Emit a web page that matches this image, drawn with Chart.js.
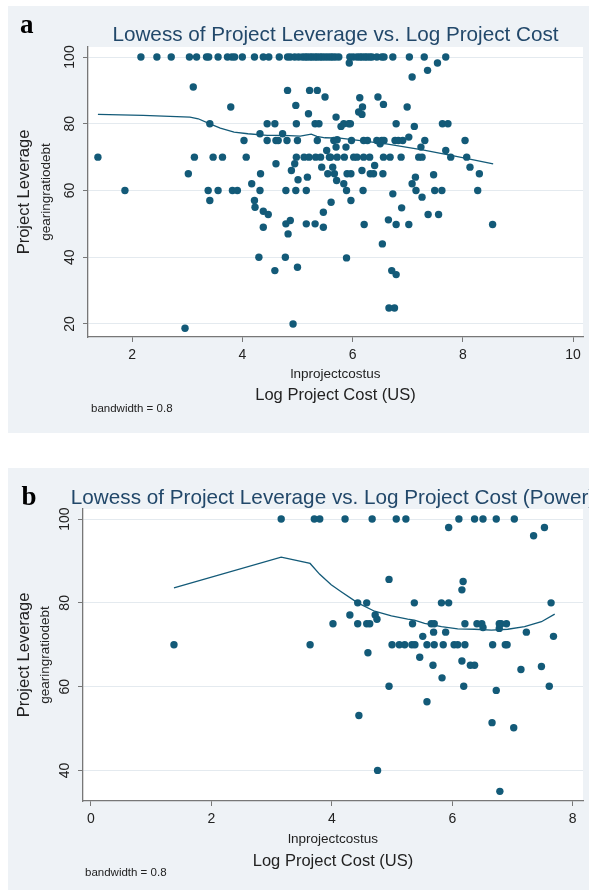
<!DOCTYPE html>
<html>
<head>
<meta charset="utf-8">
<title>Lowess of Project Leverage vs. Log Project Cost</title>
<script src="https://cdn.jsdelivr.net/npm/chart.js@4.4.1/dist/chart.umd.min.js"></script>
<style>
  html, body { margin: 0; padding: 0; background: #fff; }
  body { width: 589px; height: 892px; position: relative; overflow: hidden; }
  .panel { position: absolute; left: 8px; width: 581px; background: #eef2f6; }
  #panelA { top: 6px; height: 427px; }
  #panelB { top: 468px; height: 422px; }
  canvas { display: block; }
</style>
</head>
<body>
<div class="panel" id="panelA"><canvas id="chartA" width="581" height="427"></canvas></div>
<div class="panel" id="panelB"><canvas id="chartB" width="581" height="422"></canvas></div>
<script>
// ---- panel a: all projects ----
const costA = [
  // gearingratiodebt = 100 row
  2.16, 2.45, 2.71, 3.04, 3.17, 3.35, 3.39, 3.56, 3.73, 3.81,
  3.86, 4.00, 4.22, 4.38, 4.48, 4.67, 4.82, 4.87, 4.95, 5.02,
  5.09, 5.14, 5.18, 5.23, 5.27, 5.32, 5.36, 5.41, 5.45, 5.50,
  5.55, 5.60, 5.64, 5.69, 5.75, 5.95, 6.01, 6.08, 6.13, 6.17,
  6.22, 6.26, 6.31, 6.35, 6.44, 6.53, 6.57, 6.73, 7.03, 7.30,
  7.69,
  // the rest
  1.38, 1.87, 2.96, 3.02, 3.11, 3.13, 3.38, 3.41, 3.41, 3.47,
  3.56, 3.64, 3.79, 3.82, 3.91, 4.03, 4.07, 4.17, 4.22, 4.23,
  4.30, 4.32, 4.32, 4.33, 4.38, 4.38, 4.45, 4.45, 4.47, 4.59,
  4.59, 4.61, 4.61, 4.65, 4.73, 4.78, 4.79, 4.79, 4.81, 4.82,
  4.83, 4.87, 4.89, 4.92, 4.95, 4.97, 4.97, 4.98, 4.98, 5.00,
  5.00, 5.01, 5.12, 5.16, 5.16, 5.18, 5.20, 5.21, 5.22, 5.32,
  5.32, 5.33, 5.36, 5.36, 5.39, 5.42, 5.44, 5.47, 5.47, 5.50,
  5.53, 5.55, 5.58, 5.61, 5.64, 5.60, 5.66, 5.67, 5.70, 5.70,
  5.71, 5.72, 5.72, 5.79, 5.84, 5.84, 5.85, 5.88, 5.89, 5.89,
  5.90, 5.93, 5.96, 5.97, 5.97, 5.98, 6.02, 6.08, 6.11, 6.13,
  6.17, 6.17, 6.18, 6.19, 6.20, 6.20, 6.21, 6.27, 6.31, 6.32,
  6.38, 6.40, 6.44, 6.46, 6.50, 6.53, 6.54, 6.55, 6.56, 6.56,
  6.57, 6.65, 6.66, 6.68, 6.71, 6.73, 6.76, 6.77, 6.79, 6.79,
  6.79, 6.83, 6.88, 6.89, 6.91, 6.99, 7.02, 7.02, 7.08, 7.08,
  7.12, 7.14, 7.15, 7.20, 7.24, 7.26, 7.26, 7.31, 7.36, 7.37,
  7.47, 7.49, 7.54, 7.56, 7.62, 7.63, 7.69, 7.73, 7.78, 8.04,
  8.07, 8.13, 8.27, 8.30, 8.54, 5.94
];
const leverageA = [
  100, 100, 100, 100, 100, 100, 100, 100, 100, 100,
  100, 100, 100, 100, 100, 100, 100, 100, 100, 100,
  100, 100, 100, 100, 100, 100, 100, 100, 100, 100,
  100, 100, 100, 100, 100, 100, 100, 100, 100, 100,
  100, 100, 100, 100, 100, 100, 100, 100, 100, 100,
  100,
  70, 60, 18.7, 65, 91, 70, 60, 80, 57, 70,
  60, 70, 85, 60, 60, 75, 70, 62, 57, 55,
  40, 77, 60, 65, 53.8, 49, 80, 75, 52.8, 80,
  36, 75, 68, 75, 77, 40, 60, 50, 75, 90,
  47, 51, 66, 20, 68, 85.5, 60, 80, 70, 75,
  37, 63.2, 70, 60, 50, 64, 83, 70, 90, 80,
  50, 70, 90, 75, 80, 70, 67, 53.5, 49, 88,
  72, 65, 70, 56.5, 67, 70, 75, 65, 82, 73,
  63, 75.2, 70, 79.2, 80, 62, 70, 73, 60, 39.8,
  65, 80, 80, 65, 57, 75, 70, 70, 83.5, 87.8,
  82.8, 66, 85, 60, 75, 70, 49.8, 75, 70, 65,
  65, 67.5, 75, 88, 74, 75, 44, 65, 85.8, 70,
  75, 51.2, 24.8, 70, 36, 59, 24.8, 75, 80, 49.8,
  34.8, 75, 70, 54.8, 75, 85, 76, 49.8, 62, 94,
  79.2, 64, 60, 70, 73, 70, 58, 75, 96, 52.8,
  64.7, 60, 98.2, 52.8, 60, 80, 72, 80, 70, 75,
  70, 67, 60, 65, 49.8, 98.2
];
const lowessCostA = [1.38, 2.20, 3.05, 3.20, 3.38, 3.60, 3.85, 4.10, 4.45, 4.75,
                     5.05, 5.25, 5.35, 5.50, 5.77, 6.07, 6.61, 7.27, 7.88, 8.55];
const lowessLevA  = [82.8, 82.5, 82.0, 81.5, 80.2, 78.7, 77.5, 77.0, 76.5, 76.5,
                     76.3, 76.9, 76.2, 75.8, 75.7, 75.1, 74.0, 72.2, 70.2, 68.0];
const xTicksA = [2, 4, 6, 8, 10];
const yTicksA = [20, 40, 60, 80, 100];

// ---- panel b: power projects ----
const costB = [
  1.38, 3.16, 3.64, 3.71, 3.80, 4.02, 4.22, 4.30, 4.43, 4.43,
  4.45, 4.58, 4.58, 4.60, 4.63, 4.67, 4.72, 4.75, 4.76, 4.95,
  4.95, 5.00, 5.07, 5.12, 5.21, 5.23, 5.33, 5.34, 5.37, 5.38,
  5.46, 5.51, 5.58, 5.58, 5.65, 5.68, 5.69, 5.70, 5.70, 5.82,
  5.83, 5.85, 5.89, 5.94, 5.94, 6.03, 6.09, 6.11, 6.16, 6.16,
  6.18, 6.19, 6.21, 6.21, 6.30, 6.37, 6.37, 6.41, 6.49, 6.51,
  6.51, 6.66, 6.67, 6.73, 6.73, 6.78, 6.78, 6.79, 6.81, 6.88,
  6.90, 6.91, 7.02, 7.03, 7.14, 7.23, 7.35, 7.48, 7.53, 7.61,
  7.64, 7.68
];
const leverageB = [
  70, 100, 70, 100, 100, 75, 100, 77.1, 80, 75,
  53.1, 80, 75, 68.1, 75, 100, 77.1, 76.1, 40, 85.6,
  60.1, 70, 100, 70, 70, 100, 70, 75, 80, 70,
  67, 72, 70, 56.4, 75, 65.1, 73, 75, 70, 80,
  62.1, 70, 73, 98, 80, 70, 70, 100, 66.1, 83.1,
  85.1, 60.1, 75, 70, 65.1, 100, 65.1, 75, 75, 100,
  74.1, 51.4, 70, 100, 59.1, 75, 73.9, 35, 75, 70,
  75, 70, 50.2, 100, 64.1, 73, 96, 64.8, 98, 60.1,
  80, 72
];
const lowessCostB = [1.38, 3.16, 3.64, 3.80, 3.99, 4.15, 4.43, 4.71, 4.99, 5.26,
                     5.37, 5.54, 5.82, 6.09, 6.37, 6.65, 6.92, 7.20, 7.48, 7.70];
const lowessLevB  = [83.6, 90.9, 89.4, 86.8, 84.3, 82.7, 80.0, 78.0, 76.9, 76.1,
                     75.9, 75.1, 74.3, 73.8, 73.7, 73.5, 73.7, 74.3, 75.5, 77.3];
const xTicksB = [0, 2, 4, 6, 8];
const yTicksB = [40, 60, 80, 100];

const SANS = "'Liberation Sans', Arial, Helvetica, sans-serif";
const MARK = '#135a78';
const AXIS = '#777777';
const TEXT = '#222222';
const TITLE = '#22486a';

Chart.defaults.font.family = SANS;

// white plot region + the extra Stata-style labels
const stataText = {
  id: 'stataText',
  beforeDraw(chart) {
    const { ctx, chartArea: a } = chart;
    ctx.save();
    ctx.fillStyle = '#ffffff';
    ctx.fillRect(a.left, a.top, a.right - a.left, a.bottom - a.top);
    ctx.restore();
  },
  afterDraw(chart, args, o) {
    const { ctx, chartArea: a } = chart;
    const midX = (a.left + a.right) / 2;
    const midY = (a.top + a.bottom) / 2;
    ctx.save();
    ctx.textBaseline = 'alphabetic';
    ctx.textAlign = 'left';
    ctx.fillStyle = '#000';
    ctx.font = "bold 27px 'Liberation Serif', 'Times New Roman', serif";
    ctx.fillText(o.letter, o.letterX, o.letterY);

    ctx.textAlign = 'center';
    ctx.fillStyle = TITLE;
    ctx.font = '20.7px ' + SANS;
    ctx.fillText(o.title, midX, o.titleY);

    ctx.textBaseline = 'middle';
    ctx.fillStyle = TEXT;
    ctx.font = '13.5px ' + SANS;
    ctx.fillText('lnprojectcostus', midX, a.bottom + o.xVarDy);

    ctx.save();
    ctx.translate(o.yVarX, midY);
    ctx.rotate(-Math.PI / 2);
    ctx.fillText('gearingratiodebt', 0, 0);
    ctx.restore();

    ctx.textAlign = 'left';
    ctx.font = '11.5px ' + SANS;
    ctx.fillText('bandwidth = 0.8', o.noteX, o.noteY);
    ctx.restore();
  }
};

function lowessPanel(id, p) {
  return new Chart(document.getElementById(id), {
    type: 'scatter',
    data: {
      datasets: [
        {
          type: 'line',
          data: p.lineX.map((x, i) => ({ x: x, y: p.lineY[i] })),
          borderColor: MARK,
          borderWidth: 1.3,
          pointRadius: 0,
          tension: 0,
          fill: false
        },
        {
          data: p.x.map((x, i) => ({ x: x, y: p.y[i] })),
          backgroundColor: MARK,
          borderWidth: 0,
          pointRadius: 3.7,
          pointHoverRadius: 3.7
        }
      ]
    },
    options: {
      responsive: false,
      animation: false,
      events: [],
      layout: { padding: { top: 41, right: 6, left: 0, bottom: 0 } },
      plugins: {
        legend: { display: false },
        tooltip: { enabled: false },
        stataText: p.text
      },
      scales: {
        x: {
          type: 'linear',
          min: p.xMin,
          max: p.xMax,
          afterBuildTicks: s => { s.ticks = p.xTicks.map(v => ({ value: v })); },
          afterFit: s => { s.height = p.xBand; },
          grid: { drawOnChartArea: false, tickLength: 5, tickColor: AXIS, tickWidth: 1 },
          border: { display: true, color: AXIS, width: 1.3 },
          ticks: { color: TEXT, font: { size: 14 }, padding: 4.6, maxRotation: 0, autoSkip: false },
          title: {
            display: true, text: 'Log Project Cost (US)', color: TEXT,
            font: { size: 16.5 }, padding: { top: 0, bottom: p.xTitlePad }
          }
        },
        y: {
          type: 'linear',
          min: p.yMin,
          max: p.yMax,
          afterBuildTicks: s => { s.ticks = p.yTicks.map(v => ({ value: v })); },
          afterFit: s => { s.width = p.yBand; },
          grid: { color: '#e4eaef', lineWidth: 1, tickLength: 5, tickColor: AXIS, tickWidth: 1 },
          border: { display: true, color: AXIS, width: 1.3 },
          ticks: {
            color: TEXT, font: { size: 14 }, padding: 1.3,
            minRotation: 90, maxRotation: 90, crossAlign: 'center', autoSkip: false
          },
          title: {
            display: true, text: 'Project Leverage', color: TEXT,
            font: { size: 16.5 }, padding: { top: p.yTitlePad, bottom: 0 }
          }
        }
      }
    },
    plugins: [stataText]
  });
}

lowessPanel('chartA', {
  x: costA, y: leverageA, lineX: lowessCostA, lineY: lowessLevA,
  xTicks: xTicksA, yTicks: yTicksA,
  xMin: 1.2, xMax: 10.18, yMin: 16.1, yMax: 103,
  xBand: 96, yBand: 80, xTitlePad: 28.1, yTitlePad: 6.6,
  text: {
    letter: 'a', letterX: 12, letterY: 26.5,
    title: 'Lowess of Project Leverage vs. Log Project Cost', titleY: 34.9,
    xVarDy: 37, yVarX: 38.5, noteX: 83, noteY: 403
  }
});

lowessPanel('chartB', {
  x: costB, y: leverageB, lineX: lowessCostB, lineY: lowessLevB,
  xTicks: xTicksB, yTicks: yTicksB,
  xMin: -0.13, xMax: 8.17, yMin: 32.7, yMax: 102.4,
  xBand: 89, yBand: 75, xTitlePad: 18.4, yTitlePad: 6.9,
  text: {
    letter: 'b', letterX: 13.5, letterY: 36.5,
    title: 'Lowess of Project Leverage vs. Log Project Cost (Power)', titleY: 35.5,
    xVarDy: 38.5, yVarX: 37.3, noteX: 77, noteY: 405
  }
});
</script>
</body>
</html>
